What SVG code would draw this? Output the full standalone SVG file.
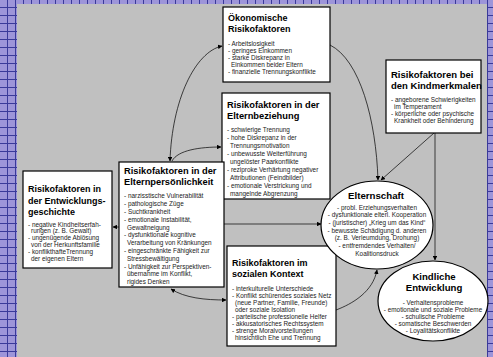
<svg xmlns="http://www.w3.org/2000/svg" width="493" height="357" viewBox="0 0 493 357">
<defs>
<pattern id="grid" width="8" height="8" patternUnits="userSpaceOnUse">
<rect width="8" height="8" fill="#9d95d9"/>
<path d="M0,7.5 H8 M7.5,0 V8" stroke="#3a3a9a" stroke-width="1"/>
</pattern>
<marker id="ah" viewBox="0 0 10 10" refX="9" refY="5" markerWidth="4.5" markerHeight="4.5" orient="auto-start-reverse" markerUnits="userSpaceOnUse">
<path d="M0,0 L10,5 L0,10 z" fill="#000"/>
</marker>
<style>
.box{fill:#fff;stroke:#000;stroke-width:1.2}
.t{font-family:"Liberation Sans",Arial,sans-serif;font-weight:bold;font-size:9.3px;fill:#000}
.l{font-family:"Liberation Sans",Arial,sans-serif;font-size:6.4px;fill:#222}
.c{text-anchor:middle}
.con{fill:none;stroke:#000;stroke-width:0.7}
</style>
</defs>
<rect width="493" height="357" fill="url(#grid)"/>
<rect x="17" y="4" width="470" height="353" fill="#c0c0c0"/>

<g id="connectors">
<path class="con" d="M222,46 C195,52 172,100 170,161" marker-start="url(#ah)" marker-end="url(#ah)"/>
<path class="con" d="M172,161 C178,150 200,147 221,147" marker-end="url(#ah)"/>
<path class="con" d="M113,227 L119,227" marker-start="url(#ah)"/>
<path class="con" d="M224,224 L321,224" marker-end="url(#ah)"/>
<path class="con" d="M171,289 C185,298 205,300 226,300" marker-start="url(#ah)" marker-end="url(#ah)"/>
<path class="con" d="M336,310 C352,304 373,292 377,270" marker-end="url(#ah)"/>
<path class="con" d="M330,45 C360,60 376,120 378,180" marker-end="url(#ah)"/>
<path class="con" d="M434,133 L381,180" marker-end="url(#ah)"/>
<path class="con" d="M435,133 L435,260" marker-end="url(#ah)"/>
</g>

<g id="oekonomisch">
<rect class="box" x="223" y="7" width="107" height="75"/>
<text class="t" x="228" y="20.5" style="font-size:9px">Ökonomische</text>
<text class="t" x="228" y="31.5" style="font-size:9px">Risikofaktoren</text>
<text class="l" x="228" y="45.5">- Arbeitslosigkeit</text>
<text class="l" x="228" y="52.5">- geringes Einkommen</text>
<text class="l" x="228" y="59.5">- starke Diskrepanz in</text>
<text class="l" x="231" y="66.5">Einkommen beider Eltern</text>
<text class="l" x="228" y="73.5">- finanzielle Trennungskonflikte</text>
</g>

<g id="elternbeziehung">
<rect class="box" x="222" y="93" width="108" height="106"/>
<text class="t" x="227" y="108">Risikofaktoren in der</text>
<text class="t" x="227" y="119">Elternbeziehung</text>
<text class="l" x="227" y="132">- schwierige Trennung</text>
<text class="l" x="227" y="140">- hohe Diskrepanz in der</text>
<text class="l" x="230" y="148">Trennungsmotivation</text>
<text class="l" x="227" y="156">- unbewusste Weiterführung</text>
<text class="l" x="230" y="164">ungelöster Paarkonflikte</text>
<text class="l" x="227" y="172">- reziproke Verhärtung negativer</text>
<text class="l" x="230" y="180">Attributionen (Feindbilder)</text>
<text class="l" x="227" y="188">- emotionale Verstrickung und</text>
<text class="l" x="230" y="196">mangelnde Abgrenzung</text>
</g>

<g id="elternpersoenlichkeit">
<rect class="box" x="119" y="162" width="105" height="125"/>
<text class="t" x="124" y="174">Risikofaktoren in der</text>
<text class="t" x="124" y="185">Elternpersönlichkeit</text>
<text class="l" x="124" y="198.3">- narzisstische Vulnerabilität</text>
<text class="l" x="124" y="206.1">- pathologische Züge</text>
<text class="l" x="124" y="213.9">- Suchtkrankheit</text>
<text class="l" x="124" y="221.7">- emotionale Instabilität,</text>
<text class="l" x="127" y="229.5">Gewaltneigung</text>
<text class="l" x="124" y="237.3">- dysfunktionale kognitive</text>
<text class="l" x="127" y="245.1">Verarbeitung von Kränkungen</text>
<text class="l" x="124" y="252.9">- eingeschränkte Fähigkeit zur</text>
<text class="l" x="127" y="260.7">Stressbewältigung</text>
<text class="l" x="124" y="268.5">- Unfähigkeit zur Perspektiven-</text>
<text class="l" x="127" y="276.3">übernahme im Konflikt,</text>
<text class="l" x="127" y="284.1">rigides Denken</text>
</g>

<g id="entwicklungsgeschichte">
<rect class="box" x="23" y="171" width="89" height="97"/>
<text class="t" x="28" y="192" style="font-size:9px">Risikofaktoren in</text>
<text class="t" x="28" y="203.5" style="font-size:9px">der Entwicklungs-</text>
<text class="t" x="28" y="215" style="font-size:9px">geschichte</text>
<text class="l" x="28" y="226.5">- negative Kindheitserfah-</text>
<text class="l" x="31" y="233.3">rungen (z. B. Gewalt)</text>
<text class="l" x="28" y="240.1">- ungenügende Ablösung</text>
<text class="l" x="31" y="246.9">von der Herkunftsfamilie</text>
<text class="l" x="28" y="253.7">- konflikthafteTrennung</text>
<text class="l" x="31" y="260.5">der eigenen Eltern</text>
</g>

<g id="sozialerkontext">
<rect class="box" x="227" y="246" width="109" height="100"/>
<text class="t" x="232" y="266" style="font-size:9px">Risikofaktoren im</text>
<text class="t" x="232" y="277" style="font-size:9px">sozialen Kontext</text>
<text class="l" x="232" y="291.3">- interkulturelle Unterschiede</text>
<text class="l" x="232" y="298.3">- Konflikt schürendes soziales Netz</text>
<text class="l" x="235" y="305.3">(neue Partner, Familie, Freunde)</text>
<text class="l" x="235" y="312.3">oder soziale Isolation</text>
<text class="l" x="232" y="319.3">- parteiische professionelle Helfer</text>
<text class="l" x="232" y="326.3">- akkusatorisches Rechtssystem</text>
<text class="l" x="232" y="333.3">- strenge Moralvorstellungen</text>
<text class="l" x="235" y="340.3">hinsichtlich  Ehe und Trennung</text>
</g>

<g id="kindmerkmale">
<rect class="box" x="386" y="60" width="95" height="73"/>
<text class="t" x="391" y="78" style="font-size:9.5px">Risikofaktoren bei</text>
<text class="t" x="391" y="89" style="font-size:9.5px">den Kindmerkmalen</text>
<text class="l" x="391" y="102">- angeborene Schwierigkeiten</text>
<text class="l" x="394" y="109">im Temperament</text>
<text class="l" x="391" y="116">- körperliche oder psychische</text>
<text class="l" x="394" y="123">Krankheit oder Behinderung</text>
</g>

<g id="elternschaft">
<ellipse class="box" cx="377" cy="225" rx="56" ry="44"/>
<text class="t c" x="376" y="199" style="font-size:9.7px">Elternschaft</text>
<text class="l c" x="377" y="209.5">- probl. Erziehungsverhalten</text>
<text class="l c" x="377" y="217.2">- dysfunktionale elterl. Kooperation</text>
<text class="l c" x="377" y="224.9">- (juristischer) „Krieg um das Kind“</text>
<text class="l c" x="377" y="232.6">- bewusste Schädigung d. anderen</text>
<text class="l c" x="377" y="240.3">(z. B. Verleumdung, Drohung)</text>
<text class="l c" x="377" y="248">- entfremdendes Verhalten/</text>
<text class="l c" x="377" y="255.7">Koalitionsdruck</text>
</g>

<g id="kindlicheentwicklung">
<ellipse class="box" cx="433" cy="301" rx="55" ry="40"/>
<text class="t c" x="434" y="280" style="font-size:9.6px">Kindliche</text>
<text class="t c" x="434" y="291" style="font-size:9.6px">Entwicklung</text>
<text class="l c" x="433" y="304.5">- Verhaltensprobleme</text>
<text class="l c" x="433" y="311.5">- emotionale und soziale Probleme</text>
<text class="l c" x="433" y="318.5">- schulische Probleme</text>
<text class="l c" x="433" y="325.5">- somatische Beschwerden</text>
<text class="l c" x="433" y="332.5">- Loyalitätskonflikte</text>
</g>
</svg>
